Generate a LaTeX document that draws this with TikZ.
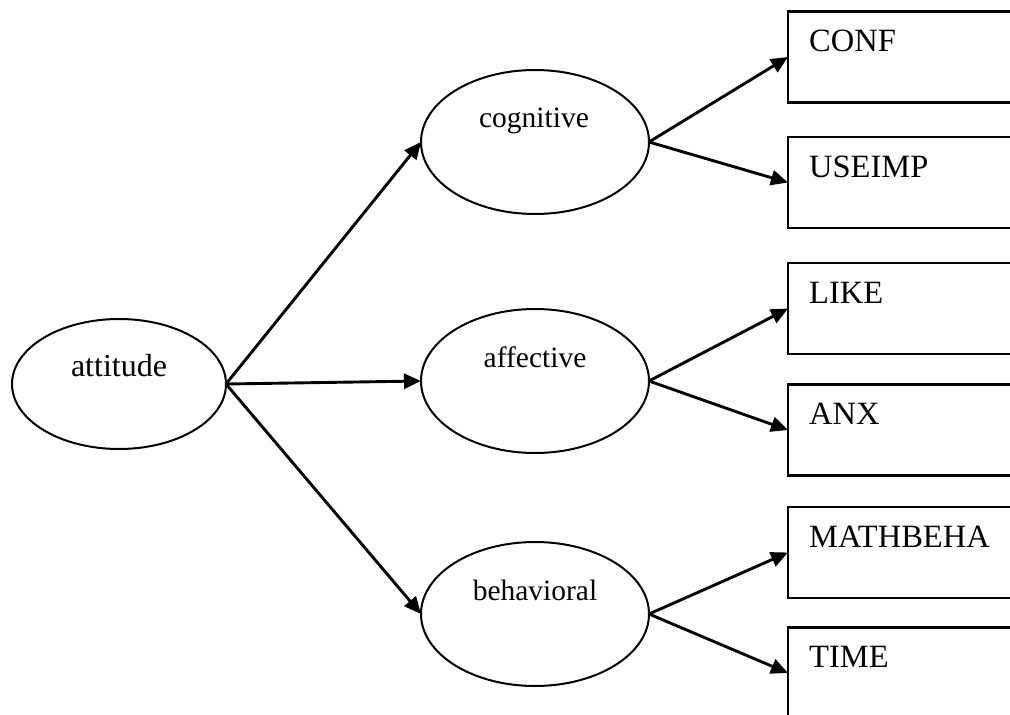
\documentclass[tikz,border=0pt]{standalone}
\usepackage{fontspec}
\setmainfont{Liberation Serif}
\usetikzlibrary{arrows.meta,shapes.geometric,calc}
\begin{document}
\begin{tikzpicture}[x=1pt,y=-1pt,
  oval/.style={draw, ellipse, line width=2pt, inner sep=0pt, outer sep=0pt,
    minimum width=228pt, minimum height=144pt},
  itembox/.style={draw, rectangle, line width=2.3pt, inner sep=0pt, outer sep=0pt,
    minimum width=252pt, minimum height=91pt},
  ovaltext/.style={anchor=base, inner sep=0pt, font=\fontsize{29.5}{34}\selectfont},
  boxtext/.style={anchor=base west, inner sep=0pt, font=\fontsize{32.5}{38}\selectfont},
  link/.style={line width=2.9pt, -{Triangle[length=17pt,width=15pt]}}]
\useasboundingbox (0,0) rectangle (1010,715);
\clip (0,0) rectangle (1010,715);
\fill[white] (0,0) rectangle (1010,715);

% latent factors
\node[oval, minimum width=214pt, minimum height=130pt] (att) at (119,384) {};
\node[oval] (cog) at (535,142) {};
\node[oval] (aff) at (535,381) {};
\node[oval] (beh) at (535,614) {};

\node[ovaltext, font=\fontsize{32}{37}\selectfont] at ($(att)+(0,-8)$) {attitude};
\node[ovaltext] at ($(cog)+(-1,-15)$) {cognitive};
\node[ovaltext] at ($(aff)+(0,-14)$) {affective};
\node[ovaltext] at ($(beh)+(0,-14)$) {behavioral};

% indicator boxes (open towards the right edge)
\node[itembox] (conf) at (914,57)  {};
\node[itembox] (use)  at (914,182.5) {};
\node[itembox] (like) at (914,308.5) {};
\node[itembox] (anx)  at (914,430) {};
\node[itembox] (math) at (914,552.5) {};
\node[itembox] (time) at (914,673) {};

\node[boxtext] at ($(conf.north west)+(21,40)$) {CONF};
\node[boxtext] at ($(use.north west)+(21,40)$)  {USEIMP};
\node[boxtext] at ($(like.north west)+(21,40)$) {LIKE};
\node[boxtext] at ($(anx.north west)+(21,40)$)  {ANX};
\node[boxtext] at ($(math.north west)+(21,40)$) {MATHBEHA};
\node[boxtext] at ($(time.north west)+(21,40)$) {TIME};

% paths
\draw[link] (att.east) -- (cog.west);
\draw[link] (att.east) -- (aff.west);
\draw[link] (att.east) -- (beh.west);
\draw[link] (cog.east) -- (conf.west);
\draw[link] (cog.east) -- (use.west);
\draw[link] (aff.east) -- (like.west);
\draw[link] (aff.east) -- (anx.west);
\draw[link] (beh.east) -- (math.west);
\draw[link] (beh.east) -- (time.west);
\end{tikzpicture}
\end{document}
